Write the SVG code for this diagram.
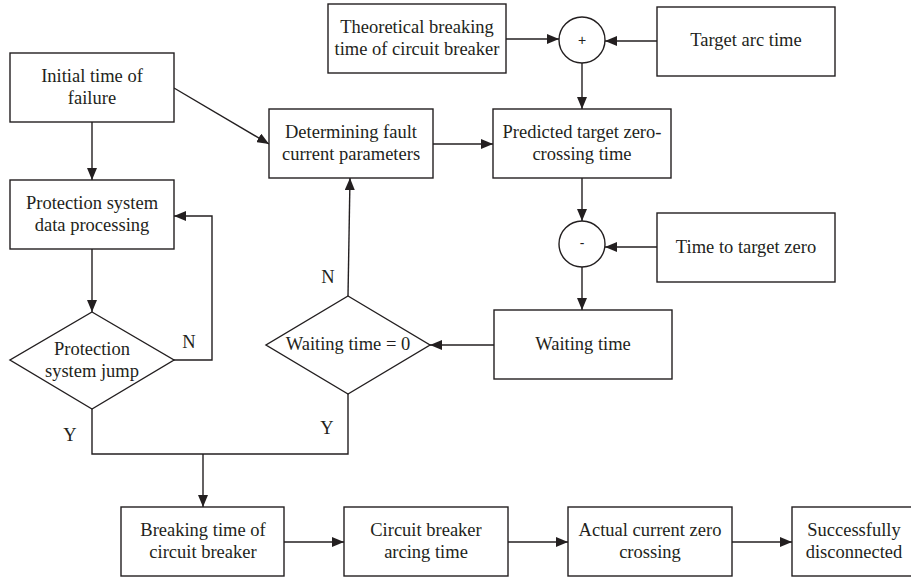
<svg xmlns="http://www.w3.org/2000/svg" width="911" height="580" viewBox="0 0 911 580">
  <style>
    .box { fill: #ffffff; stroke: #231f20; stroke-width: 1.4; }
    .wire { fill: none; stroke: #231f20; stroke-width: 1.4; }
    .lbl { font-family: "Liberation Serif", "Times New Roman", serif; font-size: 18.5px; fill: #231f20; text-anchor: middle; }
    .sign { font-family: "Liberation Sans", Arial, sans-serif; font-size: 14px; fill: #231f20; text-anchor: middle; }
  </style>
  <defs>
    <marker id="arrow" viewBox="0 0 12 10" refX="12" refY="5" markerWidth="12" markerHeight="10" markerUnits="userSpaceOnUse" orient="auto">
      <path d="M0,0 L12,5 L0,10 Z" fill="#231f20"/>
    </marker>
  </defs>
  <rect width="911" height="580" fill="#ffffff"/>

  <g id="connectors">
    <path class="wire" d="M92,122 V180" marker-end="url(#arrow)"/>
    <path class="wire" d="M174,88 L269,144" marker-end="url(#arrow)"/>
    <path class="wire" d="M92,249 V312" marker-end="url(#arrow)"/>
    <path class="wire" d="M174,360 H212 V216 H174" marker-end="url(#arrow)"/>
    <path class="wire" d="M433,144 H493" marker-end="url(#arrow)"/>
    <path class="wire" d="M506,39 H559" marker-end="url(#arrow)"/>
    <path class="wire" d="M657,41 H605" marker-end="url(#arrow)"/>
    <path class="wire" d="M582,63 V109" marker-end="url(#arrow)"/>
    <path class="wire" d="M582,178 V221" marker-end="url(#arrow)"/>
    <path class="wire" d="M657,247 H605" marker-end="url(#arrow)"/>
    <path class="wire" d="M582,267 V310" marker-end="url(#arrow)"/>
    <path class="wire" d="M494,345 H430" marker-end="url(#arrow)"/>
    <path class="wire" d="M348,296 L350,178" marker-end="url(#arrow)"/>
    <path class="wire" d="M92,409 V454 H348 V394"/>
    <path class="wire" d="M203,454 V507" marker-end="url(#arrow)"/>
    <path class="wire" d="M284,542 H344" marker-end="url(#arrow)"/>
    <path class="wire" d="M508,542 H568" marker-end="url(#arrow)"/>
    <path class="wire" d="M732,542 H792" marker-end="url(#arrow)"/>
    <text class="lbl" x="189" y="348">N</text>
    <text class="lbl" x="328" y="283">N</text>
    <text class="lbl" x="70" y="441">Y</text>
    <text class="lbl" x="327" y="434">Y</text>
  </g>

  <g id="initial-time">
    <rect class="box" x="10" y="53" width="164" height="69"/>
    <text class="lbl" x="92" y="82">Initial time of</text>
    <text class="lbl" x="92" y="104">failure</text>
  </g>

  <g id="protection-processing">
    <rect class="box" x="10" y="180" width="164" height="69"/>
    <text class="lbl" x="92" y="209">Protection system</text>
    <text class="lbl" x="92" y="231">data processing</text>
  </g>

  <g id="protection-jump">
    <path class="box" d="M92,312 L174,360 L92,409 L10,360 Z"/>
    <text class="lbl" x="92" y="355">Protection</text>
    <text class="lbl" x="92" y="377">system jump</text>
  </g>

  <g id="fault-parameters">
    <rect class="box" x="269" y="109" width="164" height="69"/>
    <text class="lbl" x="351" y="138">Determining fault</text>
    <text class="lbl" x="351" y="160">current parameters</text>
  </g>

  <g id="theoretical-breaking">
    <rect class="box" x="328" y="4" width="178" height="69"/>
    <text class="lbl" x="417" y="33">Theoretical breaking</text>
    <text class="lbl" x="417" y="55">time of circuit breaker</text>
  </g>

  <g id="sum">
    <circle class="box" cx="582" cy="40" r="23"/>
    <text class="sign" x="582" y="45">+</text>
  </g>

  <g id="target-arc">
    <rect class="box" x="657" y="7" width="178" height="69"/>
    <text class="lbl" x="746" y="46">Target arc time</text>
  </g>

  <g id="predicted-zero">
    <rect class="box" x="493" y="109" width="178" height="69"/>
    <text class="lbl" x="582" y="138">Predicted target zero-</text>
    <text class="lbl" x="582" y="160">crossing time</text>
  </g>

  <g id="difference">
    <circle class="box" cx="582" cy="244" r="23"/>
    <text class="sign" x="582" y="248">-</text>
  </g>

  <g id="time-to-zero">
    <rect class="box" x="657" y="213" width="178" height="69"/>
    <text class="lbl" x="746" y="253">Time to target zero</text>
  </g>

  <g id="waiting-time">
    <rect class="box" x="494" y="310" width="178" height="69"/>
    <text class="lbl" x="583" y="350">Waiting time</text>
  </g>

  <g id="waiting-zero">
    <path class="box" d="M348,296 L430,345 L348,394 L266,345 Z"/>
    <text class="lbl" x="348" y="350">Waiting time = 0</text>
  </g>

  <g id="breaking-time">
    <rect class="box" x="121" y="507" width="163" height="69"/>
    <text class="lbl" x="203" y="536">Breaking time of</text>
    <text class="lbl" x="203" y="558">circuit breaker</text>
  </g>

  <g id="arcing-time">
    <rect class="box" x="344" y="507" width="164" height="69"/>
    <text class="lbl" x="426" y="536">Circuit breaker</text>
    <text class="lbl" x="426" y="558">arcing time</text>
  </g>

  <g id="actual-zero">
    <rect class="box" x="568" y="507" width="164" height="69"/>
    <text class="lbl" x="650" y="536">Actual current zero</text>
    <text class="lbl" x="650" y="558">crossing</text>
  </g>

  <g id="disconnected">
    <rect class="box" x="792" y="507" width="124" height="69"/>
    <text class="lbl" x="854" y="536">Successfully</text>
    <text class="lbl" x="854" y="558">disconnected</text>
  </g>
</svg>
